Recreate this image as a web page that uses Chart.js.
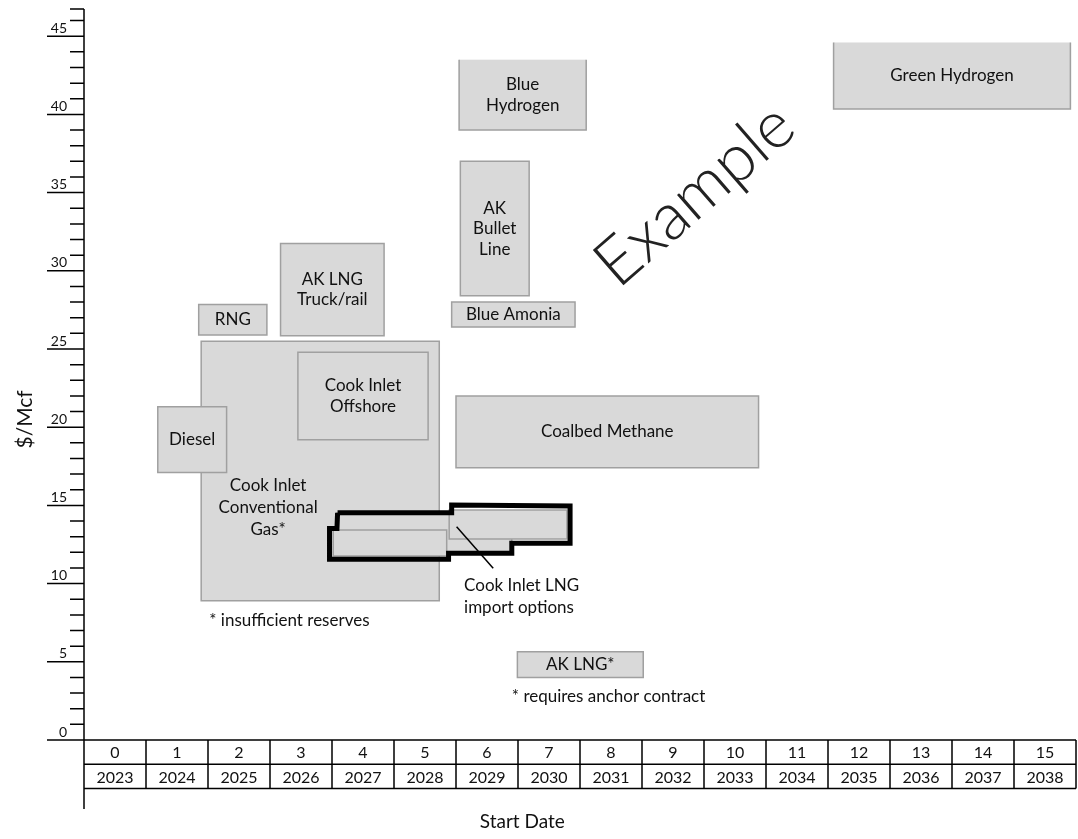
<!DOCTYPE html>
<html>
<head>
<meta charset="utf-8">
<title>Start Date vs $/Mcf</title>
<script src="https://cdn.jsdelivr.net/npm/chart.js@4.4.1/dist/chart.umd.min.js"></script>
<style>
  html, body { margin: 0; padding: 0; background: #fff; overflow: hidden; }
  canvas { display: block; }
</style>
</head>
<body>
<canvas id="chart" width="1078" height="839"></canvas>
<script>
// Time axis: years from now and calendar year
const yearOffsets = ['0', '1', '2', '3', '4', '5', '6', '7', '8', '9', '10', '11', '12', '13', '14', '15'];
const startYears = ['2023', '2024', '2025', '2026', '2027', '2028', '2029', '2030', '2031', '2032', '2033', '2034', '2035', '2036', '2037', '2038'];
const priceTicks = [0, 5, 10, 15, 20, 25, 30, 35, 40, 45];

// Supply options: start window (years) and cost range ($/Mcf)
const boxNames = ['Cook Inlet Conventional Gas', 'Cook Inlet Offshore', 'Diesel', 'RNG', 'AK LNG Truck/rail',
  'LNG import 1', 'LNG import 2', 'LNG import 3', 'Blue Amonia', 'AK Bullet Line', 'Blue Hydrogen',
  'Coalbed Methane', 'AK LNG*', 'Green Hydrogen'];
const boxText = [[], ['Cook Inlet', 'Offshore'], ['Diesel'], ['RNG'], ['AK LNG', 'Truck/rail'],
  [], [], [], ['Blue Amonia'], ['AK', 'Bullet', 'Line'], ['Blue', 'Hydrogen'],
  ['Coalbed Methane'], ['AK LNG*'], ['Green Hydrogen']];
const startLow  = [1.89, 3.45, 1.19, 1.85, 3.17, 4.08, 4.02, 5.89, 5.93, 6.07, 6.05, 6.00, 6.99, 12.09];
const startHigh = [5.73, 5.55, 2.30, 2.95, 4.84, 6.90, 5.85, 7.79, 7.92, 7.18, 8.10, 10.88, 9.02, 15.91];
const costLow   = [8.9, 19.2, 17.1, 25.9, 25.85, 11.96, 11.76, 12.85, 26.4, 28.4, 39.0, 17.4, 4.0, 40.35];
const costHigh  = [25.5, 24.8, 21.3, 27.85, 31.75, 14.51, 13.43, 14.71, 28.0, 37.0, 43.5, 22.0, 5.65, 44.6];

// Thick outline around the LNG import options
const lngOutlineStart = [4.09, 5.93, 5.93, 7.84, 7.84, 6.90, 6.90, 5.88, 5.88, 3.96, 3.96, 4.08, 4.09];
const lngOutlineCost  = [14.53, 14.53, 15.03, 14.96, 12.58, 12.58, 11.94, 11.94, 11.56, 11.56, 13.53, 13.53, 14.53];
const leaderStart = [6.01, 6.60];
const leaderCost  = [13.64, 10.98];

// Free text notes
const noteText  = ['Cook Inlet', 'Conventional', 'Gas*', '* insufficient reserves', 'Cook Inlet LNG', 'import options', '* requires anchor contract'];
const noteStart = [2.97, 2.97, 2.97, 2.02, 6.13, 6.13, 6.90];
const noteCost  = [16.3, 14.88, 13.43, 7.63, 9.85, 8.44, 2.75];
const noteAlign = ['center', 'center', 'center', 'left', 'left', 'left', 'left'];

const FONT = 'Lato, "Open Sans", sans-serif';
const BOX_FILL = '#d9d9d9';
const BOX_EDGE = '#a0a0a0';
const OPEN_TOP = ['Blue Hydrogen', 'Green Hydrogen'];

const boxesPlugin = {
  id: 'boxes',
  beforeDatasetsDraw(chart) {
    const { ctx, scales: { x, y } } = chart;
    ctx.save();
    boxNames.forEach((name, i) => {
      const l = x.getPixelForValue(startLow[i]);
      const r = x.getPixelForValue(startHigh[i]);
      const t = y.getPixelForValue(costHigh[i]);
      const b = y.getPixelForValue(costLow[i]);
      ctx.fillStyle = BOX_FILL;
      ctx.fillRect(l, t, r - l, b - t);
      ctx.strokeStyle = BOX_EDGE;
      ctx.lineWidth = 1.5;
      ctx.beginPath();
      if (OPEN_TOP.includes(name)) {
        ctx.moveTo(l, t); ctx.lineTo(l, b); ctx.lineTo(r, b); ctx.lineTo(r, t);
      } else {
        ctx.rect(l, t, r - l, b - t);
      }
      ctx.stroke();
    });
    ctx.restore();
  },
  afterDatasetsDraw(chart) {
    const { ctx, scales: { x, y } } = chart;
    ctx.save();
    ctx.fillStyle = '#111';
    ctx.font = '17px ' + FONT;
    ctx.textBaseline = 'middle';
    ctx.textAlign = 'center';
    boxText.forEach((lines, i) => {
      if (!lines.length) return;
      const cx = (x.getPixelForValue(startLow[i]) + x.getPixelForValue(startHigh[i])) / 2;
      const cy = (y.getPixelForValue(costLow[i]) + y.getPixelForValue(costHigh[i])) / 2;
      const lh = 20.5;
      lines.forEach((s, k) => ctx.fillText(s, cx, cy + (k - (lines.length - 1) / 2) * lh));
    });
    noteText.forEach((s, i) => {
      ctx.textAlign = noteAlign[i];
      ctx.fillText(s, x.getPixelForValue(noteStart[i]), y.getPixelForValue(noteCost[i]));
    });

    // watermark
    ctx.save();
    ctx.translate(x.getPixelForValue(9.85), y.getPixelForValue(34.85));
    ctx.rotate(-41 * Math.PI / 180);
    ctx.font = '300 66px ' + FONT;
    ctx.fillStyle = '#222';
    ctx.textAlign = 'center';
    ctx.fillText('Example', 0, 0);
    ctx.restore();
    ctx.restore();
  },
  afterDraw(chart) {
    const { ctx, chartArea: area, scales: { x, y } } = chart;
    const x0 = x.getPixelForValue(0);
    const y0 = y.getPixelForValue(0);
    ctx.save();
    ctx.strokeStyle = '#000';
    ctx.lineWidth = 1.5;
    ctx.beginPath();
    // value axis line, running down past the table
    ctx.moveTo(x0, area.top);
    ctx.lineTo(x0, y0 + 69);
    // value axis ticks
    for (let v = 0; v <= 46; v++) {
      const py = y.getPixelForValue(v);
      ctx.moveTo(v % 5 === 0 ? x0 - 37 : x0 - 14, py);
      ctx.lineTo(x0, py);
    }
    ctx.moveTo(x0 - 14, area.top);
    ctx.lineTo(x0, area.top);
    // time table
    const rowH = 24.3;
    const xEnd = x.getPixelForValue(16);
    ctx.moveTo(x0, y0); ctx.lineTo(xEnd, y0);
    ctx.moveTo(x0, y0 + rowH); ctx.lineTo(xEnd, y0 + rowH);
    ctx.moveTo(x0, y0 + 2 * rowH); ctx.lineTo(xEnd, y0 + 2 * rowH);
    for (let k = 1; k <= yearOffsets.length; k++) {
      const px = x.getPixelForValue(k);
      ctx.moveTo(px, y0); ctx.lineTo(px, y0 + 2 * rowH);
    }
    ctx.stroke();

    ctx.fillStyle = '#111';
    ctx.textBaseline = 'middle';
    ctx.textAlign = 'center';
    ctx.font = '16px ' + FONT;
    yearOffsets.forEach((s, k) => {
      const cx = x.getPixelForValue(k + 0.5);
      ctx.fillText(s, cx, y0 + rowH / 2 + 1);
      ctx.fillText(startYears[k], cx, y0 + rowH * 1.5 + 1);
    });

    ctx.textAlign = 'right';
    ctx.font = '14px ' + FONT;
    priceTicks.forEach(v => ctx.fillText(String(v), x0 - 17, y.getPixelForValue(v) - 8));

    // axis titles
    ctx.font = '19px ' + FONT;
    ctx.textAlign = 'center';
    ctx.fillText('Start Date', x.getPixelForValue(7.07), y0 + 82);
    ctx.save();
    ctx.translate(25, y.getPixelForValue(20.5));
    ctx.rotate(-Math.PI / 2);
    ctx.font = '21px ' + FONT;
    ctx.fillText('$/Mcf', 0, 0);
    ctx.restore();
    ctx.restore();
  }
};

new Chart(document.getElementById('chart'), {
  type: 'scatter',
  data: {
    datasets: [
      {
        label: 'Cook Inlet LNG import options',
        data: lngOutlineStart.map((s, i) => ({ x: s, y: lngOutlineCost[i] })),
        showLine: true,
        borderColor: '#000',
        borderWidth: 5,
        borderJoinStyle: 'miter',
        pointRadius: 0,
        tension: 0,
        clip: false
      },
      {
        label: 'leader',
        data: leaderStart.map((s, i) => ({ x: s, y: leaderCost[i] })),
        showLine: true,
        borderColor: '#000',
        borderWidth: 1.5,
        pointRadius: 0,
        clip: false
      }
    ]
  },
  options: {
    responsive: false,
    animation: false,
    events: [],
    layout: { padding: { left: 84, right: 2, top: 9, bottom: 99 } },
    plugins: { legend: { display: false }, tooltip: { enabled: false } },
    scales: {
      x: { type: 'linear', min: 0, max: 16, display: false },
      y: { type: 'linear', min: 0, max: 46.74, display: false }
    }
  },
  plugins: [boxesPlugin]
});
</script>
</body>
</html>
